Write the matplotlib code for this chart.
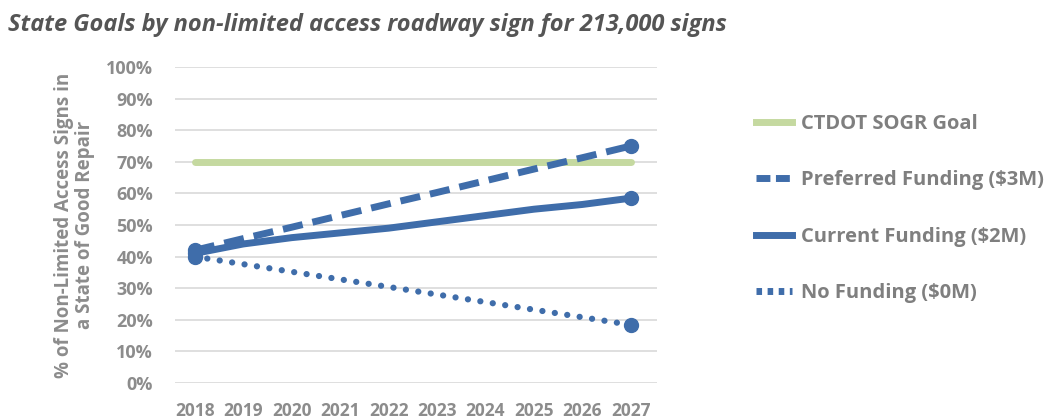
import matplotlib.pyplot as plt
from matplotlib.lines import Line2D
from matplotlib.ticker import PercentFormatter

plt.rcParams['font.family'] = ['Open Sans', 'DejaVu Sans']

years = [2018, 2019, 2020, 2021, 2022, 2023, 2024, 2025, 2026, 2027]
goal = [70, 70, 70, 70, 70, 70, 70, 70, 70, 70]
preferred = [42, 45.7, 49.3, 53, 56.7, 60.3, 64, 67.7, 71.3, 75]
current = [41, 44, 46, 47.5, 49, 51, 53, 55, 56.5, 58.5]
no_funding = [40, 37.6, 35.2, 32.8, 30.4, 28, 25.6, 23.2, 20.8, 18.4]
labels = ["CTDOT SOGR Goal", "Preferred Funding ($3M)",
          "Current Funding ($2M)", "No Funding ($0M)"]

BLUE = '#3f6daa'
GREEN = '#c5d9a0'
GRAY = '#8c8c8c'

fig = plt.figure(figsize=(10.51, 4.2), dpi=100)
ax = fig.add_axes([175/1051, 1-383/420, (657-175)/1051, (383-67)/420])

ax.plot(years, goal, color=GREEN, lw=5, solid_capstyle='round')
ax.plot(years, preferred, color=BLUE, lw=5, ls=(0, (2.9, 1.45)),
        marker='o', ms=10, markevery=[0, -1])
ax.plot(years, current, color=BLUE, lw=5, solid_capstyle='round',
        marker='o', ms=10, markevery=[0, -1])
ax.plot(years, no_funding, color=BLUE, lw=4.5, ls=(0, (0.01, 2.0)),
        dash_capstyle='round', marker='o', ms=10, markevery=[0, -1])

ax.set_xlim(2017.59, 2027.54)
ax.set_ylim(0, 100)
ax.set_yticks(range(0, 101, 10))
ax.yaxis.set_major_formatter(PercentFormatter(decimals=0))
ax.set_xticks(years)
ax.grid(axis='y', color='#d9d9d9', lw=1.2)
ax.set_axisbelow(True)
for s in ax.spines.values():
    s.set_visible(False)
ax.tick_params(axis='y', length=0, labelsize=13, labelcolor=GRAY, pad=16)
ax.tick_params(axis='x', length=0, labelsize=12.5, labelcolor=GRAY, pad=14)
for t in ax.get_xticklabels() + ax.get_yticklabels():
    t.set_fontweight('bold')

ax.set_ylabel("% of Non-Limited Access Signs in\na State of Good Repair",
              fontsize=13.5, fontweight='bold', color=GRAY, labelpad=8,
              linespacing=1.05)

fig.text(8/1051, 1-25/420,
         "State Goals by non-limited access roadway sign for 213,000 signs",
         fontsize=17, fontweight='bold', fontstyle='italic', color='#555555',
         va='center', ha='left')

# legend handles without the end markers
handles = [Line2D([], [], color=GREEN, lw=5),
           Line2D([], [], color=BLUE, lw=5, ls=(0, (2, 0.8))),
           Line2D([], [], color=BLUE, lw=5),
           Line2D([], [], color=BLUE, lw=5, ls=(0, (0.8, 0.8)))]
leg = fig.legend(handles, labels, loc='upper left',
                 bbox_to_anchor=(738/1051, 1-96/420), frameon=False,
                 handlelength=1.8, handletextpad=0.45, labelspacing=1.8,
                 prop={'size': 14.5, 'weight': 'bold'})
for t in leg.get_texts():
    t.set_color('#7f7f7f')

fig.savefig('out.png', dpi=100)
